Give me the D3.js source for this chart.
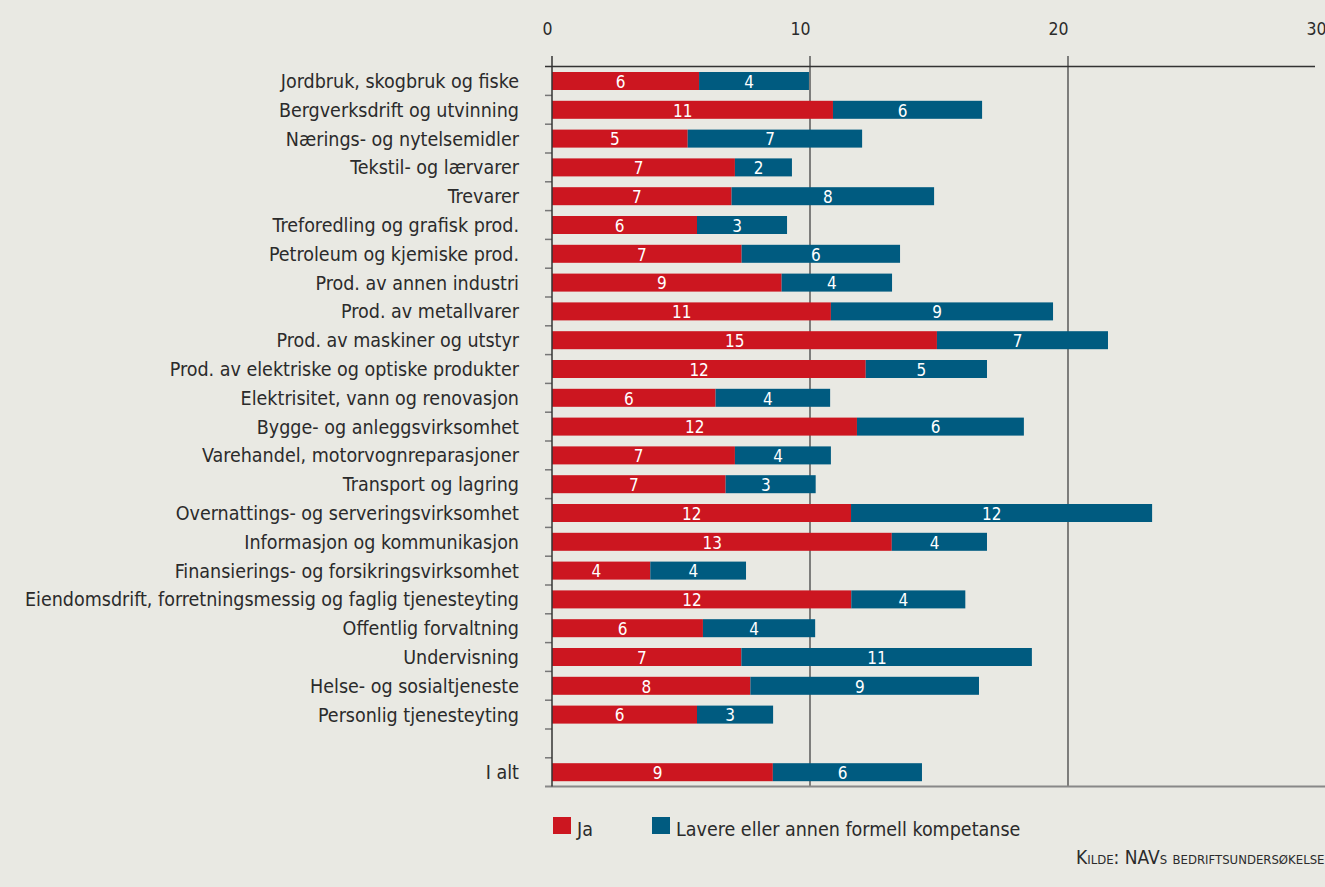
<!DOCTYPE html>
<html lang="no">
<head>
  <meta charset="utf-8">
  <title>Kompetanse etter næring</title>
  <script src="https://d3js.org/d3.v7.min.js"></script>
  <style>
  body { margin: 0; background: #e9e9e3; }
  text { font-family: "DejaVu Sans Condensed", "DejaVu Sans", sans-serif; fill: #2b2b2b; }
  .val { font-size: 17px; fill: #fff; }
  .legend text { font-size: 19.5px; }
  .source { font-size: 19px; font-variant: small-caps; }
  </style>
</head>
<body>
<script>
// næringer, ovenfra og ned ("" = tom rad foran I alt)
var categories = [
  "Jordbruk, skogbruk og fiske",
  "Bergverksdrift og utvinning",
  "Nærings- og nytelsemidler",
  "Tekstil- og lærvarer",
  "Trevarer",
  "Treforedling og grafisk prod.",
  "Petroleum og kjemiske prod.",
  "Prod. av annen industri",
  "Prod. av metallvarer",
  "Prod. av maskiner og utstyr",
  "Prod. av elektriske og optiske produkter",
  "Elektrisitet, vann og renovasjon",
  "Bygge- og anleggsvirksomhet",
  "Varehandel, motorvognreparasjoner",
  "Transport og lagring",
  "Overnattings- og serveringsvirksomhet",
  "Informasjon og kommunikasjon",
  "Finansierings- og forsikringsvirksomhet",
  "Eiendomsdrift, forretningsmessig og faglig tjenesteyting",
  "Offentlig forvaltning",
  "Undervisning",
  "Helse- og sosialtjeneste",
  "Personlig tjenesteyting",
  "",
  "I alt"
];

// prosent, lest av figuren
var ja = [5.70, 10.89, 5.26, 7.09, 6.96, 5.62, 7.35, 8.90, 10.81, 14.92, 12.16, 6.34,
          11.82, 7.09, 6.73, 11.59, 13.17, 3.81, 11.60, 5.85, 7.34, 7.69, 5.62, null, 8.56];
var lavere = [4.26, 5.78, 6.76, 2.21, 7.85, 3.49, 6.14, 4.28, 8.61, 6.63, 4.70, 4.44,
              6.47, 3.72, 3.49, 11.67, 3.69, 3.71, 4.42, 4.35, 11.26, 8.86, 2.95, null, 5.78];

var seriesNames = ["Ja", "Lavere eller annen formell kompetanse"];
var colors = ["#cc1620", "#005b80"];
var xTicks = [0, 10, 20, 30];

var width = 1325, height = 887;

var svg = d3.select("body").append("svg")
  .attr("width", width)
  .attr("height", height);

var x = d3.scaleLinear().domain([0, 30]).range([552, 1326]);

var y = d3.scaleBand()
  .domain(categories.map(function(d, i) { return i; }))
  .range([66.6, 786.6]);

var barH = 18;

// rutenett
svg.append("g").selectAll("line")
  .data(xTicks.slice(1))
  .enter().append("line")
  .attr("x1", function(d) { return x(d); })
  .attr("x2", function(d) { return x(d); })
  .attr("y1", 56)
  .attr("y2", 787)
  .attr("stroke", "#444")
  .attr("stroke-width", 1.3);

// topp-akse tall
var topAxis = svg.append("g")
  .attr("transform", "translate(0,35)")
  .call(d3.axisTop(x).tickValues(xTicks).tickSize(0).tickPadding(0));
topAxis.select(".domain").remove();
topAxis.selectAll("text")
  .attr("text-anchor", "end")
  .attr("x", 0)
  .attr("dy", 0)
  .style("font-size", "17.5px")
  .style("font-family", "DejaVu Sans Condensed")
  .style("fill", "#2b2b2b");

// stolper
var rows = categories.map(function(c, i) {
  return { i: i, ja: ja[i], lavere: lavere[i] };
}).filter(function(d) { return d.ja != null; });

var bars = svg.append("g");

rows.forEach(function(d) {
  var segs = [
    { x0: 0, x1: d.ja, v: d.ja, c: colors[0] },
    { x0: d.ja, x1: d.ja + d.lavere, v: d.lavere, c: colors[1] }
  ];
  var yc = y(d.i) + y.bandwidth() / 2;
  bars.selectAll(null)
    .data(segs)
    .enter().append("rect")
    .attr("x", function(s) { return x(s.x0); })
    .attr("width", function(s) { return x(s.x1) - x(s.x0); })
    .attr("y", yc - barH / 2)
    .attr("height", barH)
    .attr("fill", function(s) { return s.c; });
  bars.selectAll(null)
    .data(segs)
    .enter().append("text")
    .attr("class", "val")
    .attr("x", function(s) { return (x(s.x0) + x(s.x1)) / 2; })
    .attr("y", yc)
    .attr("dy", "0.4em")
    .attr("text-anchor", "end")
    .text(function(s) { return Math.round(s.v); });
});

// kategori-akse
var cat = svg.append("g")
  .attr("transform", "translate(" + x(0) + ",0)")
  .call(d3.axisLeft(y).tickSize(0).tickPadding(33)
    .tickFormat(function(i) { return categories[i]; }));
cat.select(".domain").remove();
cat.selectAll("text")
  .attr("dy", "0.36em")
  .style("font-size", "19.5px")
  .style("font-family", "DejaVu Sans Condensed")
  .style("fill", "#2b2b2b");

var bounds = y.domain().map(function(d) { return y(d); }).concat([y.range()[1]]);
svg.append("g").selectAll("line")
  .data(bounds.slice(1, -1))
  .enter().append("line")
  .attr("x1", x(0) - 7)
  .attr("x2", x(0))
  .attr("y1", function(d) { return d; })
  .attr("y2", function(d) { return d; })
  .attr("stroke", "#777")
  .attr("stroke-width", 1.5);

// akselinjer
svg.append("line")
  .attr("x1", x(0) - 7).attr("x2", 1315)
  .attr("y1", y.range()[0]).attr("y2", y.range()[0])
  .attr("stroke", "#333").attr("stroke-width", 1.5);
svg.append("line")
  .attr("x1", x(0) - 7).attr("x2", width)
  .attr("y1", y.range()[1]).attr("y2", y.range()[1])
  .attr("stroke", "#888").attr("stroke-width", 2);
svg.append("line")
  .attr("x1", x(0)).attr("x2", x(0))
  .attr("y1", 56).attr("y2", y.range()[1])
  .attr("stroke", "#333").attr("stroke-width", 1.5);

// tegnforklaring
var legend = svg.append("g").attr("class", "legend");
var legX = [553, 652];
seriesNames.forEach(function(n, i) {
  legend.append("rect")
    .attr("x", legX[i]).attr("y", 817)
    .attr("width", 18).attr("height", 17)
    .attr("fill", colors[i]);
  legend.append("text")
    .attr("x", legX[i] + 24).attr("y", 836)
    .text(n);
});

svg.append("text")
  .attr("class", "source")
  .attr("x", 1076)
  .attr("y", 864)
  .text("Kilde: NAVs bedriftsundersøkelse");
</script>
</body>
</html>
